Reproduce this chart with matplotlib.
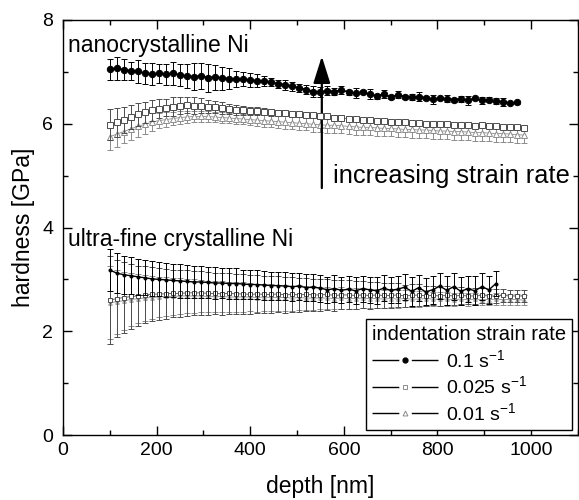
import matplotlib

matplotlib.use("Agg")

import matplotlib.pyplot as plt
import numpy as np
from matplotlib.lines import Line2D
from matplotlib.ticker import MultipleLocator

plt.rcParams["font.family"] = ["Liberation Sans", "DejaVu Sans"]
plt.rcParams["mathtext.fontset"] = "custom"
plt.rcParams["mathtext.rm"] = "Liberation Sans"
plt.rcParams["mathtext.it"] = "Liberation Sans"

# depth grid [nm]
depth = [100, 115, 130, 145, 160, 175, 190, 205, 220, 235,
         250, 265, 280, 295, 310, 325, 340, 355, 370, 385,
         400, 415, 430, 445, 460, 475, 490, 505, 520, 535,
         550, 565, 580, 595, 610, 625, 640, 655, 670, 685,
         700, 715, 730, 745, 760, 775, 790, 805, 820, 835,
         850, 865, 880, 895, 910, 925, 940, 955, 970, 985]

# nanocrystalline Ni, 0.1 1/s
nano_01 = [7.05, 7.07, 7.04, 7.02, 7.01, 6.97, 6.96, 6.97, 6.95, 6.97,
           6.94, 6.92, 6.91, 6.92, 6.89, 6.90, 6.88, 6.87, 6.86, 6.86,
           6.84, 6.83, 6.82, 6.80, 6.77, 6.75, 6.72, 6.69, 6.66, 6.62,
           6.61, 6.64, 6.62, 6.65, 6.61, 6.59, 6.61, 6.57, 6.53, 6.57,
           6.51, 6.56, 6.52, 6.51, 6.52, 6.49, 6.47, 6.49, 6.48, 6.46,
           6.48, 6.45, 6.49, 6.45, 6.46, 6.44, 6.42, 6.40, 6.41]
nano_01_err = [0.20, 0.22, 0.20, 0.18, 0.22, 0.20, 0.21, 0.18, 0.20, 0.23,
               0.21, 0.24, 0.26, 0.25, 0.27, 0.24, 0.22, 0.20, 0.16, 0.14,
               0.13, 0.12, 0.10, 0.08, 0.08, 0.10, 0.09, 0.08, 0.09, 0.11,
               0.10, 0.08, 0.06, 0.08, 0.05, 0.09, 0.04, 0.10, 0.05, 0.08,
               0.04, 0.07, 0.04, 0.06, 0.09, 0.04, 0.08, 0.03, 0.07, 0.04,
               0.06, 0.08, 0.03, 0.07, 0.05, 0.06, 0.07, 0.02, 0.02]

# nanocrystalline Ni, 0.025 1/s
nano_0025 = [5.98, 6.03, 6.08, 6.13, 6.18, 6.22, 6.26, 6.29, 6.31, 6.33,
             6.35, 6.36, 6.35, 6.35, 6.33, 6.32, 6.30, 6.29, 6.27, 6.26,
             6.25, 6.24, 6.23, 6.22, 6.21, 6.20, 6.19, 6.18, 6.17, 6.16,
             6.15, 6.14, 6.12, 6.11, 6.10, 6.09, 6.08, 6.07, 6.06, 6.05,
             6.04, 6.03, 6.03, 6.02, 6.01, 6.00, 6.00, 5.99, 5.99, 5.98,
             5.97, 5.97, 5.96, 5.97, 5.95, 5.96, 5.94, 5.94, 5.93, 5.92]
nano_0025_err = [0.30, 0.28, 0.25, 0.24, 0.22, 0.20, 0.20, 0.18, 0.17, 0.18,
                 0.16, 0.15, 0.16, 0.14, 0.13, 0.12, 0.12, 0.10, 0.10, 0.09,
                 0.08, 0.08, 0.07, 0.07, 0.06, 0.06, 0.06, 0.05, 0.05, 0.05,
                 0.05, 0.05, 0.05, 0.05, 0.04, 0.04, 0.04, 0.04, 0.04, 0.04,
                 0.04, 0.04, 0.04, 0.04, 0.04, 0.04, 0.04, 0.04, 0.04, 0.04,
                 0.04, 0.04, 0.04, 0.05, 0.04, 0.04, 0.04, 0.04, 0.04, 0.04]

# nanocrystalline Ni, 0.01 1/s
nano_001 = [5.75, 5.80, 5.85, 5.90, 5.95, 5.99, 6.03, 6.06, 6.08, 6.10,
            6.12, 6.13, 6.14, 6.14, 6.14, 6.13, 6.12, 6.11, 6.10, 6.09,
            6.08, 6.07, 6.06, 6.05, 6.04, 6.03, 6.02, 6.01, 6.00, 5.99,
            5.98, 5.97, 5.97, 5.96, 5.95, 5.94, 5.93, 5.93, 5.92, 5.91,
            5.91, 5.90, 5.89, 5.89, 5.88, 5.88, 5.87, 5.86, 5.86, 5.85,
            5.85, 5.84, 5.83, 5.83, 5.82, 5.81, 5.81, 5.80, 5.79, 5.78]
nano_001_err = [0.25, 0.24, 0.23, 0.22, 0.20, 0.19, 0.17, 0.15, 0.14, 0.13,
                0.12, 0.12, 0.11, 0.11, 0.10, 0.10, 0.10, 0.10, 0.10, 0.10,
                0.11, 0.11, 0.12, 0.12, 0.12, 0.13, 0.13, 0.13, 0.13, 0.14,
                0.14, 0.14, 0.14, 0.14, 0.15, 0.15, 0.15, 0.15, 0.15, 0.15,
                0.15, 0.16, 0.15, 0.16, 0.15, 0.16, 0.16, 0.15, 0.16, 0.16,
                0.16, 0.15, 0.16, 0.16, 0.15, 0.16, 0.16, 0.15, 0.16, 0.15]

# ultra-fine crystalline Ni, 0.1 1/s
ufc_01 = [3.18, 3.12, 3.09, 3.07, 3.05, 3.03, 3.01, 3.00, 2.99, 2.98,
          2.97, 2.96, 2.95, 2.95, 2.94, 2.93, 2.93, 2.92, 2.92, 2.91,
          2.90, 2.90, 2.89, 2.88, 2.88, 2.87, 2.86, 2.87, 2.84, 2.85,
          2.83, 2.80, 2.82, 2.79, 2.81, 2.78, 2.82, 2.80, 2.78, 2.83,
          2.79, 2.81, 2.85, 2.77, 2.84, 2.76, 2.80, 2.87, 2.79, 2.86,
          2.77, 2.82, 2.78, 2.86, 2.80, 2.92]
ufc_01_err = [0.40, 0.38, 0.37, 0.36, 0.35, 0.34, 0.34, 0.33, 0.33, 0.32,
              0.32, 0.31, 0.31, 0.30, 0.30, 0.30, 0.29, 0.29, 0.29, 0.28,
              0.28, 0.28, 0.28, 0.27, 0.27, 0.27, 0.27, 0.26, 0.26, 0.26,
              0.26, 0.25, 0.26, 0.25, 0.25, 0.26, 0.25, 0.25, 0.26, 0.25,
              0.25, 0.26, 0.25, 0.28, 0.25, 0.26, 0.27, 0.25, 0.28, 0.26,
              0.27, 0.25, 0.28, 0.26, 0.27, 0.25]

# ultra-fine crystalline Ni, 0.025 1/s
ufc_0025 = [2.60, 2.63, 2.65, 2.67, 2.68, 2.70, 2.71, 2.72, 2.72, 2.73,
            2.73, 2.74, 2.74, 2.74, 2.73, 2.73, 2.72, 2.73, 2.72, 2.72,
            2.71, 2.72, 2.71, 2.71, 2.72, 2.70, 2.71, 2.70, 2.71, 2.70,
            2.70, 2.71, 2.69, 2.70, 2.70, 2.69, 2.70, 2.69, 2.70, 2.69,
            2.69, 2.70, 2.68, 2.69, 2.70, 2.68, 2.69, 2.68, 2.69, 2.68,
            2.69, 2.68, 2.68, 2.69, 2.68, 2.68, 2.69, 2.68, 2.68, 2.68]
ufc_0025_err = [0.85, 0.75, 0.68, 0.62, 0.58, 0.55, 0.52, 0.50, 0.48, 0.46,
                0.45, 0.44, 0.43, 0.42, 0.41, 0.40, 0.40, 0.39, 0.38, 0.38,
                0.37, 0.36, 0.36, 0.35, 0.34, 0.34, 0.33, 0.32, 0.32, 0.31,
                0.30, 0.30, 0.29, 0.28, 0.28, 0.27, 0.26, 0.26, 0.25, 0.24,
                0.24, 0.23, 0.22, 0.22, 0.21, 0.20, 0.19, 0.19, 0.18, 0.17,
                0.16, 0.16, 0.15, 0.14, 0.14, 0.13, 0.12, 0.12, 0.11, 0.11]

# ultra-fine crystalline Ni, 0.01 1/s
ufc_001 = [2.55, 2.57, 2.59, 2.61, 2.63, 2.64, 2.65, 2.66, 2.67, 2.67,
           2.68, 2.68, 2.68, 2.68, 2.67, 2.67, 2.67, 2.66, 2.66, 2.66,
           2.66, 2.65, 2.66, 2.65, 2.65, 2.65, 2.64, 2.65, 2.64, 2.64,
           2.64, 2.64, 2.63, 2.64, 2.63, 2.63, 2.64, 2.63, 2.63, 2.62,
           2.63, 2.62, 2.63, 2.62, 2.62, 2.63, 2.62, 2.62, 2.62, 2.61,
           2.62, 2.61, 2.62, 2.61, 2.61, 2.62, 2.61, 2.61, 2.61, 2.60]
ufc_001_err = [0.70, 0.62, 0.56, 0.51, 0.47, 0.44, 0.41, 0.39, 0.37, 0.35,
               0.34, 0.33, 0.32, 0.31, 0.30, 0.30, 0.29, 0.29, 0.28, 0.28,
               0.27, 0.27, 0.26, 0.26, 0.25, 0.25, 0.24, 0.24, 0.23, 0.23,
               0.22, 0.22, 0.21, 0.21, 0.20, 0.20, 0.19, 0.19, 0.18, 0.18,
               0.17, 0.17, 0.16, 0.16, 0.15, 0.15, 0.14, 0.14, 0.13, 0.13,
               0.12, 0.12, 0.12, 0.11, 0.11, 0.11, 0.10, 0.10, 0.10, 0.10]

rate_labels = [r"0.1 s$^{-1}$", r"0.025 s$^{-1}$", r"0.01 s$^{-1}$"]

C_01 = "black"
C_0025 = "#4d4d4d"
C_001 = "#8c8c8c"


def serie(ax, y, err, color, marker, ms, mfc, lw, z):
    x = np.array(depth[: len(y)])
    ax.errorbar(x, y, yerr=err, fmt="none", ecolor=color, elinewidth=0.7,
                capsize=2, capthick=0.7, zorder=z)
    ax.plot(x, y, color=color, lw=lw, marker=marker, ms=ms, mfc=mfc,
            mec=color, mew=0.7, zorder=z + 0.5)


fig = plt.figure(figsize=(5.79, 5.00), dpi=100)
ax = fig.add_axes([0.1088, 0.13, 0.8892, 0.83])

# ultra-fine crystalline
serie(ax, ufc_001, ufc_001_err, C_001, "^", 2.6, "white", 0.6, 2)
serie(ax, ufc_0025, ufc_0025_err, C_0025, "s", 2.4, "white", 0.6, 3)
serie(ax, ufc_01, ufc_01_err, C_01, "o", 2.2, C_01, 1.0, 4)

# nanocrystalline
serie(ax, nano_001, nano_001_err, C_001, "^", 4.0, "white", 0.6, 2)
serie(ax, nano_0025, nano_0025_err, C_0025, "s", 3.8, "white", 0.6, 3)
serie(ax, nano_01, nano_01_err, C_01, "o", 4.6, C_01, 1.2, 4)

ax.set_xlim(0, 1100)
ax.set_ylim(0, 8)
ax.xaxis.set_major_locator(MultipleLocator(200))
ax.xaxis.set_minor_locator(MultipleLocator(100))
ax.yaxis.set_major_locator(MultipleLocator(2))
ax.yaxis.set_minor_locator(MultipleLocator(1))
ax.tick_params(which="both", direction="in", top=True, right=True, width=1.0)
ax.tick_params(which="major", length=6.5, labelsize=14)
ax.tick_params(which="minor", length=3.5)
ax.tick_params(axis="x", pad=5)
ax.tick_params(axis="y", pad=7)
for s in ax.spines.values():
    s.set_linewidth(1.0)

ax.set_xlabel("depth [nm]", fontsize=16.5)
ax.set_ylabel("hardness [GPa]", fontsize=16.5)
ax.xaxis.set_label_coords(0.5, -0.097)
ax.yaxis.set_label_coords(-0.055, 0.5)

ax.text(10, 7.51, "nanocrystalline Ni", fontsize=16.5, va="center", ha="left")
ax.text(10, 3.76, "ultra-fine crystalline Ni", fontsize=16.5, va="center", ha="left")
ax.text(576, 5.0, "increasing strain rate", fontsize=18.3, va="center", ha="left")
ax.annotate("", xy=(553, 7.30), xytext=(553, 4.76),
            arrowprops=dict(arrowstyle="-|>,head_length=1.65,head_width=0.52",
                            color="black", lw=1.6, mutation_scale=10,
                            shrinkA=0, shrinkB=0))

# legend handles: line - marker - line with small gaps round the marker
hl = 3.4
seg = (hl * 14 - 9) / 2
handles = [
    Line2D([], [], color="black", lw=1.0, dashes=(seg, 9), marker="o", ms=3.5,
           mfc="black", mec="black"),
    Line2D([], [], color="black", lw=1.0, dashes=(seg, 9), marker="s", ms=3.2,
           mfc="white", mec=C_001, mew=0.7),
    Line2D([], [], color="black", lw=1.0, dashes=(seg, 9), marker="^", ms=3.5,
           mfc="white", mec=C_001, mew=0.7),
]
leg = ax.legend(handles, rate_labels, title="indentation strain rate",
                loc="lower right", bbox_to_anchor=(0.988, 0.012), borderaxespad=0,
                fontsize=14, title_fontsize=14.5, frameon=True, fancybox=False,
                edgecolor="black", framealpha=1, handlelength=hl,
                labelspacing=0.25, borderpad=0.3, handletextpad=0.4,
                alignment="left")
leg.get_frame().set_linewidth(1.0)

fig.savefig("out.png", dpi=100)
